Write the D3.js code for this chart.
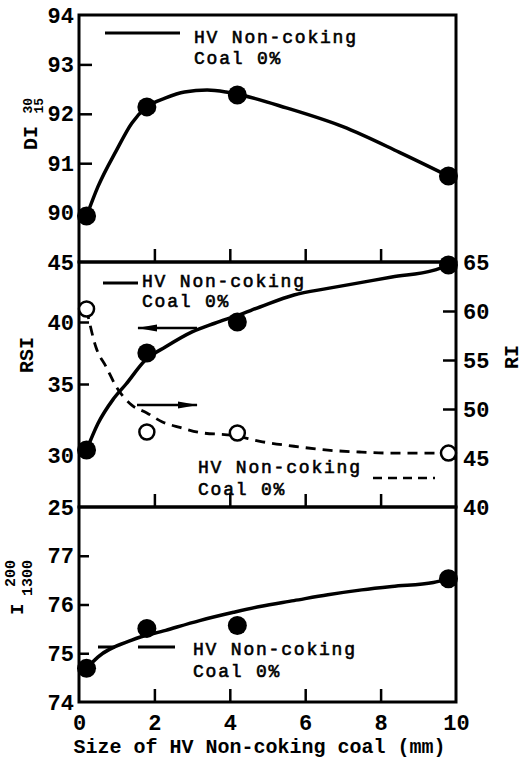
<!DOCTYPE html>
<html>
<head>
<meta charset="utf-8">
<script src="https://cdn.jsdelivr.net/npm/d3@7"></script>
<style>
  body { margin: 0; background: #fff; }
  svg { display: block; }
</style>
</head>
<body>
<svg id="chart" width="523" height="765"></svg>
<script>
// measured points (size of HV non-coking coal, mm)
const sizes = [0.2, 1.8, 4.2, 9.8];
const diValues = [89.93, 92.14, 92.38, 90.74];
const rsiValues = [30.35, 37.5, 40.0, 44.75];
const riValues = [60.2, 47.65, 47.55, 45.5];
const iValues = [74.69, 75.51, 75.57, 76.53];

// trend curves as drawn in the figure
const diCurveX = [0.2, 0.5, 1.0, 1.4, 1.8, 2.3, 2.8, 3.4, 3.9, 4.3, 5.5, 7.0, 8.5, 9.8];
const diCurveY = [89.93, 90.52, 91.27, 91.81, 92.14, 92.32, 92.44, 92.48, 92.44, 92.38, 92.12, 91.74, 91.22, 90.74];
const rsiCurveX = [0.2, 0.5, 0.9, 1.25, 1.75, 2.3, 3.0, 3.6, 4.25, 4.8, 5.7, 6.6, 7.5, 8.3, 9.4, 9.8];
const rsiCurveY = [30.35, 32.2, 33.9, 35.0, 36.9, 38.0, 39.2, 39.9, 40.6, 41.25, 42.25, 42.8, 43.3, 43.75, 44.3, 44.75];
const riCurveX = [0.2, 0.45, 0.72, 1.0, 1.4, 1.8, 2.2, 2.7, 3.2, 4.1, 4.8, 5.7, 6.6, 7.5, 8.3, 9.8];
const riCurveY = [60.2, 56.3, 54.3, 52.2, 50.4, 49.6, 48.7, 48.1, 47.6, 47.3, 46.7, 46.2, 45.8, 45.6, 45.5, 45.5];
const iCurveX = [0.2, 0.5, 1.4, 2.3, 3.2, 4.1, 4.8, 5.7, 6.6, 7.5, 8.3, 9.4, 9.8];
const iCurveY = [74.69, 74.92, 75.27, 75.47, 75.67, 75.84, 75.96, 76.08, 76.2, 76.3, 76.37, 76.45, 76.53];

// tick labels
const xTicks = [0, 2, 4, 6, 8, 10];
const diTicks = [90, 91, 92, 93, 94];
const rsiTicks = [25, 30, 35, 40, 45];
const riTicks = [40, 45, 50, 55, 60, 65];
const iTicks = [74, 75, 76, 77];

const MONO = "'Liberation Mono', 'DejaVu Sans Mono', monospace";
const svg = d3.select("#chart");
const fmt = d3.format("d");

const x = d3.scaleLinear().domain([0, 10]).range([79, 456]);
const yDI = d3.scaleLinear().domain([89, 94]).range([262, 15]);
// the RSI axis of the original is hand-lettered and not quite even
const yRSI = d3.scaleLinear().domain([25, 30, 35, 40, 45]).range([507, 455, 384, 322, 262]);
const yRI = d3.scaleLinear().domain([40, 65]).range([507, 262]);
const yI = d3.scaleLinear().domain([74, 78]).range([702, 507]);

const left = x(0), right = x(10);

// arrow head
svg.append("defs").append("marker")
    .attr("id", "arrow")
    .attr("viewBox", "0 0 20 10")
    .attr("refX", 19).attr("refY", 5)
    .attr("markerWidth", 20).attr("markerHeight", 10)
    .attr("markerUnits", "userSpaceOnUse")
    .attr("orient", "auto")
    .append("path")
    .attr("d", "M0,1.5 L20,5 L0,8.5 Z")
    .attr("fill", "#000");

function styleAxis(g) {
    g.select(".domain").remove();
    g.selectAll("line").attr("stroke", "#000").attr("stroke-width", 2.5);
    g.selectAll("text")
        .attr("fill", "#000")
        .attr("font-family", MONO)
        .attr("font-weight", "bold")
        .attr("font-size", 22);
}

function panel(yScale, yTop, yBottom, labelVals, markVals, markLen) {
    // inward tick marks along the bottom edge
    svg.append("g")
        .attr("transform", `translate(0,${yBottom})`)
        .call(d3.axisBottom(x).tickValues([2, 4, 6, 8]).tickSize(-13).tickFormat(""))
        .call(styleAxis);
    // left labels and marks
    svg.append("g")
        .attr("transform", `translate(${left},0)`)
        .call(d3.axisLeft(yScale).tickValues(labelVals).tickSize(0).tickPadding(5).tickFormat(fmt))
        .call(styleAxis);
    svg.append("g")
        .attr("transform", `translate(${left},0)`)
        .call(d3.axisLeft(yScale).tickValues(markVals).tickSize(-markLen).tickFormat(""))
        .call(styleAxis);
    svg.append("rect")
        .attr("x", left).attr("y", yTop)
        .attr("width", right - left).attr("height", yBottom - yTop)
        .attr("fill", "none").attr("stroke", "#000").attr("stroke-width", 3);
}

panel(yDI, yDI(94), yDI(89), diTicks, [90, 91, 92, 93], 13);
panel(yRSI, yRSI(45), yRSI(25), rsiTicks, [30, 35, 40], 10);
panel(yI, yI(78), yI(74), iTicks, [75, 76, 77], 10);

// right axis for RI
svg.append("g")
    .attr("transform", `translate(${right},0)`)
    .call(d3.axisRight(yRI).tickValues(riTicks).tickSize(0).tickPadding(7).tickFormat(fmt))
    .call(styleAxis);
svg.append("g")
    .attr("transform", `translate(${right},0)`)
    .call(d3.axisRight(yRI).tickValues([45, 50, 55, 60]).tickSize(-13).tickFormat(""))
    .call(styleAxis);

// x labels at the bottom
svg.append("g")
    .attr("transform", `translate(0,${yI(74)})`)
    .call(d3.axisBottom(x).tickValues(xTicks).tickSize(0).tickPadding(12).tickFormat(fmt))
    .call(styleAxis);

svg.append("text")
    .attr("x", (left + right) / 2 - 8)
    .attr("y", 753)
    .attr("text-anchor", "middle")
    .attr("font-family", MONO)
    .attr("font-weight", "bold")
    .attr("font-size", 20)
    .text("Size of HV Non-coking coal (mm)");

// y axis titles
function yTitle(tx, ty, main, size) {
    const g = svg.append("g").attr("transform", `translate(${tx},${ty}) rotate(-90)`);
    g.append("text")
        .attr("font-family", MONO).attr("font-weight", "bold").attr("font-size", size)
        .text(main);
    return g;
}
function supSub(g, xEnd, sup, supY, sub, subY, size) {
    g.append("text").attr("x", xEnd).attr("y", supY).attr("text-anchor", "end")
        .attr("font-family", MONO).attr("font-weight", "bold").attr("font-size", size)
        .text(sup);
    g.append("text").attr("x", xEnd).attr("y", subY).attr("text-anchor", "end")
        .attr("font-family", MONO).attr("font-weight", "bold").attr("font-size", size)
        .text(sub);
}
supSub(yTitle(37, 150, "DI", 20), 52, "30", -5, "15", 6, 13);
yTitle(33, 373, "RSI", 20);
yTitle(518, 369, "RI", 20);
supSub(yTitle(23, 615, "I", 19), 55, "200", -8, "1300", 9, 15);

// curves
function curve(xs, ys, yScale, dashed) {
    const pts = xs.map((v, i) => [v, ys[i]]);
    const line = d3.line()
        .x(d => x(d[0]))
        .y(d => yScale(d[1]))
        .curve(d3.curveMonotoneX);
    svg.append("path")
        .attr("d", line(pts))
        .attr("fill", "none")
        .attr("stroke", "#000")
        .attr("stroke-width", dashed ? 2.8 : 3.5)
        .attr("stroke-dasharray", dashed ? "10,7" : null);
}
curve(diCurveX, diCurveY, yDI, false);
curve(rsiCurveX, rsiCurveY, yRSI, false);
curve(riCurveX, riCurveY, yRI, true);
curve(iCurveX, iCurveY, yI, false);

// points
function dots(vals, yScale, open) {
    svg.append("g").selectAll("circle")
        .data(sizes.map((s, i) => [s, vals[i]]))
        .join("circle")
        .attr("cx", d => x(d[0]))
        .attr("cy", d => yScale(d[1]))
        .attr("r", open ? 7.5 : 9.5)
        .attr("fill", open ? "#fff" : "#000")
        .attr("stroke", "#000")
        .attr("stroke-width", open ? 2.5 : 0);
}
dots(diValues, yDI, false);
dots(rsiValues, yRSI, false);
dots(riValues, yRI, true);
dots(iValues, yI, false);

// legends
function legendText(tx, ty, gap) {
    ["HV Non-coking", "Coal 0%"].forEach((s, i) => {
        svg.append("text")
            .attr("x", tx).attr("y", ty + i * gap)
            .attr("font-family", MONO)
            .attr("font-size", 18)
            .attr("letter-spacing", 1.8)
            .attr("stroke", "#000").attr("stroke-width", 0.6)
            .attr("fill", "#000")
            .text(s);
    });
}
function legendLine(x1, x2, y, dashed) {
    svg.append("line")
        .attr("x1", x1).attr("x2", x2).attr("y1", y).attr("y2", y)
        .attr("stroke", "#000")
        .attr("stroke-width", dashed ? 2.5 : 3)
        .attr("stroke-dasharray", dashed ? "9,6" : null);
}

legendLine(105, 180, 33, false);
legendText(194, 43, 21);

legendLine(103, 138, 283, false);
legendText(142, 287, 20);

legendLine(373, 435, 478, true);
legendText(198, 473, 22);

legendLine(98, 115, 647, false);
legendLine(138, 175, 647, false);
legendText(193, 655, 22);

// arrows pointing to each axis
svg.append("line")
    .attr("x1", 197).attr("x2", 138).attr("y1", 328).attr("y2", 328)
    .attr("stroke", "#000").attr("stroke-width", 2.5)
    .attr("marker-end", "url(#arrow)");
svg.append("line")
    .attr("x1", 137).attr("x2", 197).attr("y1", 405).attr("y2", 405)
    .attr("stroke", "#000").attr("stroke-width", 2.5)
    .attr("marker-end", "url(#arrow)");
</script>
</body>
</html>
